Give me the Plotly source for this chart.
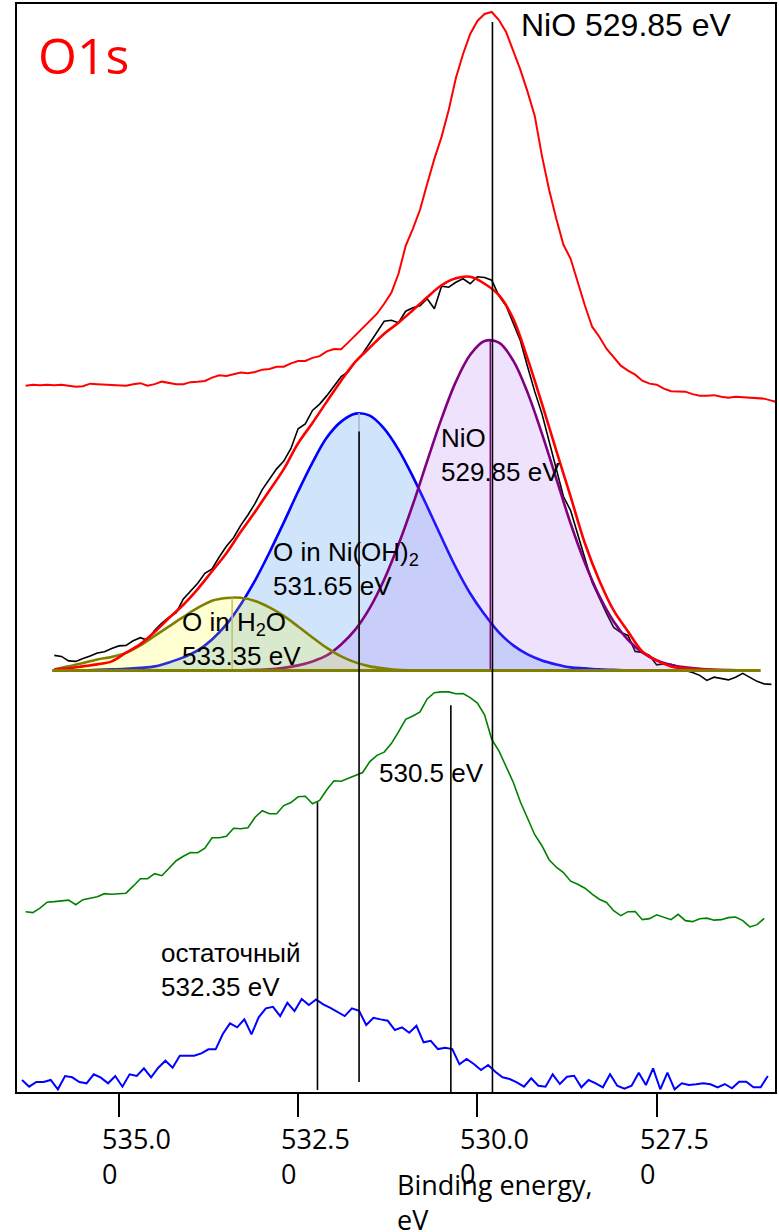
import numpy as np
import plotly.graph_objects as go

# ---------------- data (binding energy in eV, intensity in arbitrary units) ----------------
REF_START = 536.3          # top red spectrum: NiO reference
REF_NIO = [707, 708, 707.5, 708, 707.5, 708, 707, 706, 706.5, 709,
           708.5, 708, 708, 707.7, 707, 708.5, 709.5, 707, 708.5, 711,
           710, 708.5, 708.5, 710.5, 711, 711.7, 715, 717.3, 716.7, 718.2,
           720.2, 719.5, 720.7, 723, 723.7, 725.8, 726, 729.3, 731.7, 731.7,
           734.8, 736.5, 741.3, 743.6, 743.4, 750.3, 757.4, 765, 772, 779,
           789, 800, 819, 847, 864, 883, 909, 934, 956, 983,
           1015, 1039, 1059, 1072, 1079, 1081, 1073, 1061, 1042, 1023,
           1001, 977, 937, 903, 874, 848, 834, 810, 787, 766,
           756, 744, 735, 727, 722, 718, 712, 709, 708, 704,
           701.5, 701, 701, 698.5, 697, 697, 697.5, 696, 695, 696,
           695.5, 695, 694.5, 694, 692, 690]

EXP_START = 535.9          # black measured spectrum
EXP_DATA = [437, 436, 431.5, 431, 434, 436.3, 439.5, 440.7, 444, 446.5,
            447, 451.7, 454.7, 452.2, 462.2, 469.3, 475.3, 479.7, 493.5, 501,
            509.2, 519.2, 523.6, 535.5, 546.3, 554.8, 567.2, 577.5, 589.2, 603,
            613, 623.7, 631.5, 644.1, 663.8, 668.7, 682.2, 688.5, 697, 707,
            716, 721, 731.2, 739, 749.6, 760, 771.5, 772.5, 770, 781.5,
            785, 787, 794, 784, 806.5, 805.5, 810.5, 814, 809, 816,
            815.3, 812.5, 797, 787, 770, 752, 726, 701, 679, 652,
            625, 596, 582, 559, 534, 510, 494, 479, 465, 460,
            457, 441, 440, 437, 427.5, 428.5, 428, 426, 422, 420,
            417, 412, 415.2, 413.7, 412.5, 415.2, 419, 415, 411, 408.5,
            408]

GREEN_START = 536.3        # green spectrum
GREEN_DATA = [180.5, 179.5, 184, 190, 190.5, 191.5, 192, 187.5, 192.5, 194,
              195.5, 198.5, 198, 198.5, 199, 206, 213.5, 213.5, 218.5, 216.5,
              223.5, 231.5, 236, 239.7, 239.5, 244, 254.5, 254.5, 256, 264,
              263.5, 264.5, 275, 281.5, 278.5, 278.5, 286.7, 289.7, 295.5, 296,
              288.5, 291.8, 302.5, 311.5, 311, 314, 317.3, 319.8, 330.7, 337,
              340.2, 348.7, 360.4, 373, 376.3, 380.4, 393.4, 399.7, 400.5, 400.5,
              398.6, 398.7, 394.7, 389.3, 377.5, 353, 341.5, 325.5, 310, 290.3,
              273, 257.5, 246.5, 232.5, 225, 219.7, 211, 208, 204, 198,
              193, 189.7, 181.5, 176.5, 180.5, 180.7, 172.5, 173.5, 177.3, 174.7,
              172.5, 177.8, 171.5, 170.5, 173.4, 174, 172, 172.5, 174.5, 175.2,
              171.5, 165.2, 167.5, 173.7]

RESID_START = 536.35       # blue residual ("остаточный")
RESID_DATA = [12, 5.3, 10, 10, 12, 2.7, 16, 14.7, 10, 8.7,
              17.7, 14.3, 8.7, 16, 5.3, 17.7, 16, 23.7, 14.7, 24.3,
              31.3, 24.3, 36.3, 36.3, 36.3, 38.7, 42.7, 42.7, 58, 68.7,
              64.7, 72.7, 57.7, 74.7, 83.7, 85.3, 76, 89.3, 81, 93,
              87, 92.7, 87.7, 84.3, 80.3, 76, 83.7, 81.3, 67, 74.3,
              72.7, 71.3, 62, 64.7, 59.3, 66.3, 49.7, 51.3, 43, 44.3,
              43, 27.7, 33, 28, 22, 27, 20.3, 14.7, 13, 9.7,
              5.3, 13.7, 6.3, 5.3, 17.7, 8, 15.3, 16.3, 4.7, 12,
              8.7, 4.7, 17.7, 6.3, 3.3, 6.3, 19.3, 7, 23.7, 2.7,
              19.3, 2.7, 8.7, 7, 7.7, 8.7, 7.7, 4.7, 8, 3.7,
              10.3, 10.3, 4.7, 4.7, 16]

COMP_START = 535.9         # fitted components, 0.2 eV step
H2O_COMP = [422.8, 426, 429.5, 433, 435.5, 439.5, 447, 456.5, 466, 475.5,
            484.5, 491.7, 494.4, 494.7, 491.5, 485, 476.5, 466, 455, 444.5,
            436, 430, 426, 424, 422.5, 422, 422, 422, 422, 422,
            422, 422, 422, 422, 422, 422, 422, 422, 422, 422,
            422, 422, 422, 422, 422, 422, 422, 422, 422, 422]
NIOH2_COMP = [422, 422, 422, 422.5, 423, 423.5, 424.5, 426, 430, 435,
              442, 453, 468, 488, 512, 540, 570, 601, 630, 655,
              671, 679, 677, 664, 643, 616, 586, 555, 525, 499,
              478, 460, 447, 438, 432, 428, 425, 424, 423, 422.5,
              422, 422, 422, 422, 422, 422, 422, 422, 422, 422]
NIO_COMP = [422, 422, 422, 422, 422, 422, 422, 422, 422, 422,
            422, 422, 422, 422.2, 422.6, 423, 424.5, 427, 431, 437,
            448, 463, 484.5, 513, 548, 588, 631.5, 674, 711, 738,
            751.7, 750, 732, 700, 659, 614, 569, 529.5, 496.6, 471,
            452.6, 440, 432, 427.5, 425, 423.5, 422.7, 422.3, 422, 422]
FIT_ENV = [423, 424, 426, 428, 431, 439.7, 448.3, 460.5, 474.4, 487.7,
           503.4, 521.2, 539.3, 560.7, 580.8, 602, 623.4, 649.3, 669.7, 691,
           712, 731, 745, 759, 770, 782.5, 795.5, 807.5, 814.5, 816,
           809, 797.5, 774, 734, 689, 642, 596, 549, 512, 482,
           461, 441, 432, 426, 424, 423, 422.5, 422]
BASELINE = 422
BASELINE_E = [535.93, 526.05]

COMP_CENTERS = [533.42, 531.65, 529.82]
COMP_PEAKS = [494.7, 679.5, 752]

MARK_E = [529.79, 531.65, 530.37, 532.23]
MARK_TOP = [1071, 661, 387, 290]
MARK_BOTTOM = [0, 10, 0, 2]

TICKS = [535.0, 532.5, 530.0, 527.5]
TICK_TEXT = ["535.0<br>0", "532.5<br>0", "530.0<br>0", "527.5<br>0"]


def grid(start, n, step=0.1):
    return np.round(start - step * np.arange(n), 2)


fig = go.Figure()

# top reference spectrum
fig.add_trace(go.Scatter(x=grid(REF_START, len(REF_NIO)), y=REF_NIO, mode="lines",
                         line=dict(color="#ff0000", width=2)))
# measured spectrum
fig.add_trace(go.Scatter(x=grid(EXP_START, len(EXP_DATA)), y=EXP_DATA, mode="lines",
                         line=dict(color="#000000", width=1.6)))

ce = grid(COMP_START, len(H2O_COMP), 0.2)


def add_component(vals, fillcol, linecol):
    xs = list(ce) + [ce[-1], ce[0]]
    ys = list(vals) + [BASELINE, BASELINE]
    fig.add_trace(go.Scatter(x=xs, y=ys, mode="lines", fill="toself", fillcolor=fillcol,
                             line=dict(width=0, color=fillcol), line_shape="spline"))
    fig.add_trace(go.Scatter(x=ce, y=vals, mode="lines", line_shape="spline",
                             line=dict(color=linecol, width=2.6)))


add_component(NIOH2_COMP, "rgba(100,170,245,0.30)", "#0000ff")
add_component(NIO_COMP, "rgba(170,110,245,0.20)", "#800080")
add_component(H2O_COMP, "rgba(255,255,0,0.18)", "#808000")

# component centre markers
for cx, cy, col in zip(COMP_CENTERS, COMP_PEAKS, ["#c0c070", "#a8b8c8", "#800080"]):
    fig.add_trace(go.Scatter(x=[cx, cx], y=[BASELINE, cy], mode="lines",
                             line=dict(color=col, width=1.5)))

# fit envelope
fig.add_trace(go.Scatter(x=grid(COMP_START, len(FIT_ENV), 0.2), y=FIT_ENV, mode="lines",
                         line_shape="spline", line=dict(color="#ff0000", width=2.6)))
# baseline
fig.add_trace(go.Scatter(x=BASELINE_E, y=[BASELINE, BASELINE], mode="lines",
                         line=dict(color="#808000", width=3)))
# green spectrum
fig.add_trace(go.Scatter(x=grid(GREEN_START, len(GREEN_DATA)), y=GREEN_DATA, mode="lines",
                         line=dict(color="#008000", width=1.6)))
# residual
fig.add_trace(go.Scatter(x=grid(RESID_START, len(RESID_DATA)), y=RESID_DATA, mode="lines",
                         line=dict(color="#0000ff", width=2)))

# vertical position markers
vx, vy = [], []
for e, t, b in zip(MARK_E, MARK_TOP, MARK_BOTTOM):
    vx += [e, e, None]
    vy += [b, t, None]
fig.add_trace(go.Scatter(x=vx, y=vy, mode="lines", line=dict(color="#000000", width=1.6)))

ARIAL = "Liberation Sans, Arial, sans-serif"
OPEN = "Open Sans, sans-serif"

annots = [
    dict(x=536.14, y=1038, text="O1s", font=dict(family=OPEN, size=50, color="#ff0000")),
    dict(x=529.41, y=1068, text="NiO 529.85 eV", font=dict(family=ARIAL, size=32, color="#000000")),
    dict(x=530.52, y=638, text="NiO<br>529.85 eV", font=dict(family=ARIAL, size=26, color="#000000")),
    dict(x=532.86, y=523, text="O in Ni(OH)<sub>2</sub><br>531.65 eV",
         font=dict(family=ARIAL, size=26, color="#000000")),
    dict(x=534.13, y=453, text="O in H<sub>2</sub>O<br>533.35 eV",
         font=dict(family=ARIAL, size=26, color="#000000")),
    dict(x=531.39, y=319.5, text="530.5 eV", font=dict(family=ARIAL, size=26, color="#000000")),
    dict(x=534.43, y=122, text="остаточный<br>532.35 eV",
         font=dict(family=ARIAL, size=26, color="#000000")),
]
for a in annots:
    fig.add_annotation(xref="x", yref="y", xanchor="left", yanchor="middle", align="left",
                       showarrow=False, borderpad=0, **a)

# tick labels (left-aligned, wrapped) and axis title
for t, txt in zip(TICKS, TICK_TEXT):
    fig.add_annotation(x=t, y=0, xref="x", yref="y", xanchor="left", yanchor="top",
                       xshift=-18, yshift=-27, align="left", showarrow=False, borderpad=0,
                       text=txt, font=dict(family=OPEN, size=27, color="#000000"))
fig.add_annotation(x=531.14, y=0, xref="x", yref="y", xanchor="left", yanchor="top",
                   yshift=-73, align="left", showarrow=False, borderpad=0,
                   text="Binding energy,<br>eV", font=dict(family=OPEN, size=27, color="#000000"))

fig.update_layout(
    width=779, height=1232,
    margin=dict(l=17, r=2, t=3, b=140),
    paper_bgcolor="white", plot_bgcolor="white",
    showlegend=False,
    xaxis=dict(range=[536.42, 525.85], tickvals=TICKS, showticklabels=False,
               ticks="outside", ticklen=23, tickwidth=1.6, tickcolor="#000000",
               showline=True, linecolor="#000000", linewidth=2, mirror=True,
               showgrid=False, zeroline=False),
    yaxis=dict(range=[0, 1089], showticklabels=False, ticks="",
               showline=True, linecolor="#000000", linewidth=2, mirror=True,
               showgrid=False, zeroline=False),
)

fig.write_html("out.html")
